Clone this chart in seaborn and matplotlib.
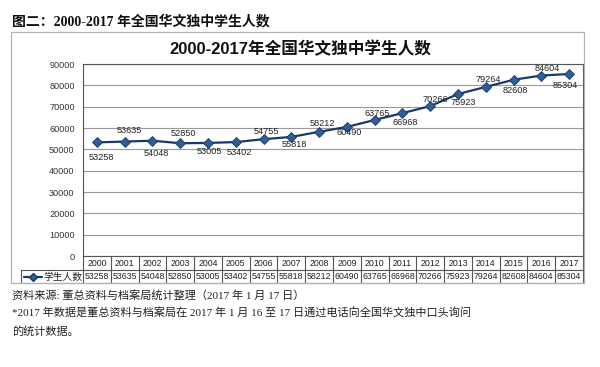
import numpy as np
import matplotlib
matplotlib.use("Agg")
import matplotlib.pyplot as plt
import matplotlib.transforms as mtransforms
from matplotlib.lines import Line2D
from matplotlib.patches import Rectangle
import seaborn as sns

# data
years = ["2000", "2001", "2002", "2003", "2004", "2005", "2006", "2007", "2008",
         "2009", "2010", "2011", "2012", "2013", "2014", "2015", "2016", "2017"]
students = [53258, 53635, 54048, 52850, 53005, 53402, 54755, 55818, 58212,
            60490, 63765, 66968, 70266, 75923, 79264, 82608, 84604, 85304]
series_name = "学生人数"
y_ticks = [0, 10000, 20000, 30000, 40000, 50000, 60000, 70000, 80000, 90000]

caption = "图二：2000-2017 年全国华文独中学生人数"
chart_title = "2000-2017年全国华文独中学生人数"
notes = ["资料来源: 董总资料与档案局统计整理（2017 年 1 月 17 日）",
         "*2017 年数据是董总资料与档案局在 2017 年 1 月 16 至 17 日通过电话向全国华文独中口头询问",
         "的统计数据。"]

# data label placement (pixel offsets from the point, + = below)
label_dy = [15, -11, 13, -9.5, 9, 10, -8, 8, -8, 6, -6.5, 9.5, -7, 8, -7.5, 10.5, -7, 11.5]
label_dx = [4, 5, 4, 3, 1, 4, 3, 3, 3, 2, 3, 3, 5, 5, 2, 2, 6, -4]

sns.set_theme(style="white")
plt.rcParams["font.family"] = ["Liberation Sans", "Noto Sans CJK SC", "DejaVu Sans"]

W, H = 600, 367
fig = plt.figure(figsize=(W / 100, H / 100), dpi=100)
fig.patch.set_facecolor("white")

# chart frame
fig.patches.append(Rectangle((11 / W, 1 - 283 / H), 573 / W, 251 / H,
                             transform=fig.transFigure, fill=False,
                             edgecolor="#B4B4B4", linewidth=0.9))

ax = fig.add_axes([83 / W, 1 - 256 / H, 500 / W, 192 / H])
pos = np.arange(len(years))

navy = "#1B3A63"
sns.lineplot(x=pos, y=students, ax=ax, color=navy, linewidth=1.6,
             marker="D", markersize=5, markerfacecolor="#2E5D99",
             markeredgecolor=navy, markeredgewidth=0.6, zorder=5)

ax.set_xlim(-0.5, len(years) - 0.5)
ax.set_ylim(0, 90000)
ax.set_yticks(y_ticks)
ax.set_yticklabels([str(v) for v in y_ticks], fontsize=6.6, color="#333333")
ax.tick_params(axis="y", length=0, pad=6)
ax.set_xticks([])
ax.set_xlabel("")
ax.set_ylabel("")
ax.grid(axis="y", color="#9A9A9A", linewidth=0.8)
ax.set_axisbelow(True)
for s in ax.spines.values():
    s.set_color("#555555")
    s.set_linewidth(0.8)

for i, v in enumerate(students):
    ax.annotate(f"{v}", (pos[i], v),
                xytext=(label_dx[i] * 0.72, -label_dy[i] * 0.72),
                textcoords="offset points", ha="center", va="center",
                fontsize=6.6, color="#222222", zorder=6)

# data table under the plot
px = 1 / 192  # one pixel in axes-fraction units (vertically)
trans = mtransforms.blended_transform_factory(ax.transData, ax.transAxes)
row1_mid, row_split, row2_mid, row_bottom = -7 * px, -14 * px, -20.5 * px, -27 * px
grid_kw = dict(color="#555555", linewidth=0.8, clip_on=False)

for b in np.arange(-0.5, len(years) + 0.5, 1.0):
    ax.add_line(Line2D([b, b], [0, row_bottom], transform=trans, **grid_kw))
leg_left = (21 - 83) / 500
for yy in (row_split, row_bottom):
    ax.add_line(Line2D([leg_left, 1], [yy, yy], transform=ax.transAxes, **grid_kw))
ax.add_line(Line2D([leg_left, leg_left], [row_split, row_bottom],
                   transform=ax.transAxes, **grid_kw))

for i, (yr, v) in enumerate(zip(years, students)):
    ax.text(pos[i], row1_mid, yr, transform=trans, ha="center", va="center",
            fontsize=6.3, color="#222222")
    ax.text(pos[i], row2_mid, str(v), transform=trans, ha="center", va="center",
            fontsize=6.3, color="#222222")

# legend key in the table
ax.add_line(Line2D([(24 - 83) / 500, (42 - 83) / 500], [row2_mid, row2_mid],
                   transform=ax.transAxes, color=navy, linewidth=1.6, clip_on=False))
ax.add_line(Line2D([(33 - 83) / 500], [row2_mid], transform=ax.transAxes,
                   marker="D", markersize=4.5, markerfacecolor="#2E5D99",
                   markeredgecolor=navy, linestyle="none", clip_on=False))
ax.text((43 - 83) / 500, row2_mid, series_name, transform=ax.transAxes,
        ha="left", va="center", fontsize=7, color="#222222")

# titles and notes
fig.text(300 / W, 1 - 49 / H, chart_title, ha="center", va="center",
         fontsize=12, fontweight="bold", color="#111111",
         family=["Liberation Sans", "Noto Sans CJK SC"])
fig.text(12 / W, 1 - 21 / H, caption, ha="left", va="center",
         fontsize=10, fontweight="bold", color="#111111",
         family=["Liberation Serif", "Noto Sans CJK SC"])
for t, yc in zip(notes, [295, 313, 331]):
    fig.text(12 / W, 1 - yc / H, t, ha="left", va="center", fontsize=8,
             color="#222222", family=["Liberation Serif", "Noto Sans CJK SC"])

fig.savefig("out.png", dpi=100, facecolor="white")
